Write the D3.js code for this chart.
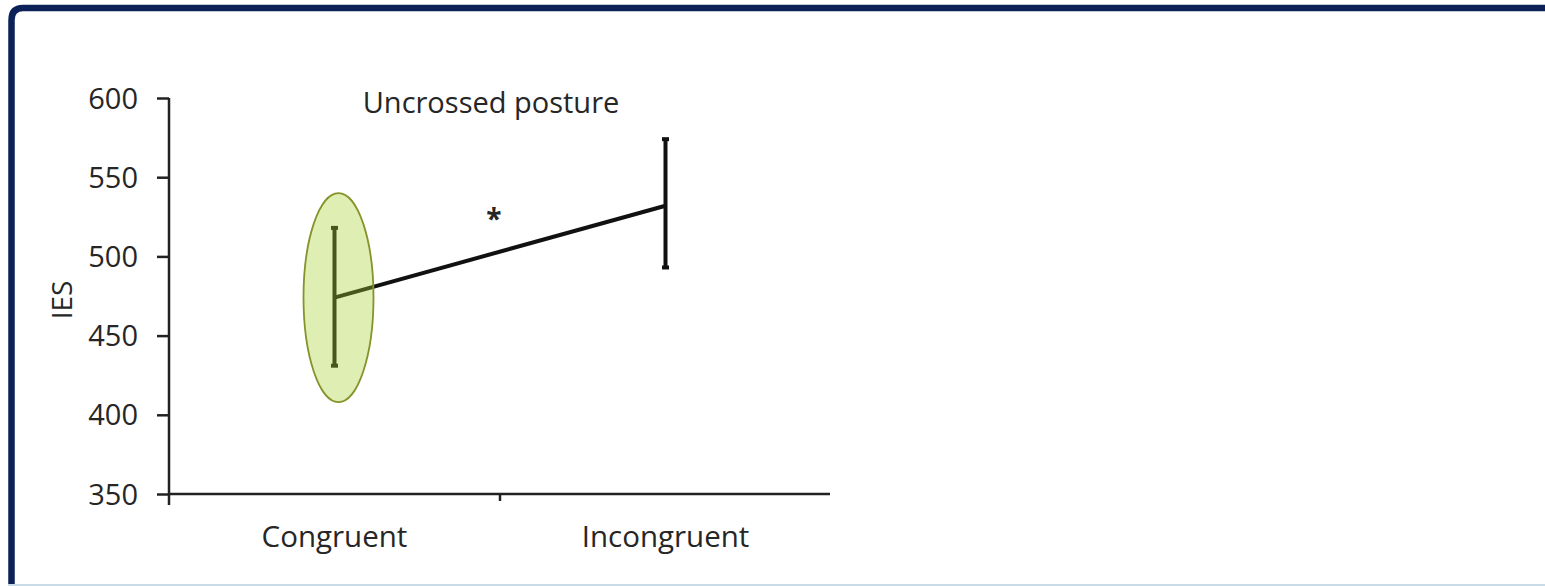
<!DOCTYPE html>
<html>
<head>
<meta charset="utf-8">
<script src="https://cdn.jsdelivr.net/npm/d3@7/dist/d3.min.js"></script>
<style>
  html, body { margin: 0; padding: 0; background: #ffffff; }
  svg { display: block; }
  text { font-family: "Open Sans", "Liberation Sans", sans-serif; fill: #262626; }
</style>
</head>
<body>
<svg id="chart" width="1545" height="586"></svg>
<script>
// ---- data ----
const categories = ["Congruent", "Incongruent"];
const means = [474, 532];
const errLow = [431, 493];
const errHigh = [518, 574];
const yTicks = [350, 400, 450, 500, 550, 600];
const title = "Uncrossed posture";
const yLabel = "IES";
const sigMark = "*";
// highlighted region around Congruent (value range)
const highlightRange = [408, 540];

const svg = d3.select("#chart");

// frame
svg.append("path")
  .attr("d", "M11.5,600 L11.5,20 Q11.5,8 23,8 L1560,8")
  .attr("fill", "none").attr("stroke", "#0b2158").attr("stroke-width", 6.5);
svg.append("line").attr("x1", 8).attr("x2", 1545).attr("y1", 585).attr("y2", 585)
  .attr("stroke", "#c9dbe6").attr("stroke-width", 2);

const x = d3.scaleBand().domain(categories).range([169, 831]).padding(0);
const y = d3.scaleLinear().domain([350, 600]).range([494, 98]);
const cx = c => x(c) + x.bandwidth() / 2;

// y axis
const yAxis = svg.append("g").attr("transform", "translate(169,0)")
  .call(d3.axisLeft(y).tickValues(yTicks).tickSize(12).tickPadding(19).tickFormat(d3.format("d")));
yAxis.select(".domain").attr("stroke", "#222").attr("stroke-width", 2.5).attr("d", `M0,${y(600)}V${y(350)}`);
yAxis.selectAll(".tick line").attr("stroke", "#222").attr("stroke-width", 2.5);
yAxis.selectAll(".tick text").style("font-size", "29px").attr("fill", "#262626").attr("dy", "0.35em");

// x axis
const xg = svg.append("g");
xg.append("line").attr("x1", 169).attr("x2", 830).attr("y1", y(350)).attr("y2", y(350))
  .attr("stroke", "#222").attr("stroke-width", 2.5);
xg.selectAll("line.xt").data(categories).enter().append("line")
  .attr("class", "xt")
  .attr("x1", d => x(d)).attr("x2", d => x(d))
  .attr("y1", y(350)).attr("y2", (d, i) => y(350) + (i === 0 ? 11 : 7))
  .attr("stroke", "#222").attr("stroke-width", 2.5);
xg.selectAll("text.xl").data(categories).enter().append("text")
  .attr("class", "xl")
  .attr("x", d => cx(d)).attr("y", 547)
  .attr("text-anchor", "middle").style("font-size", "29.5px").text(d => d);

// y label
svg.append("text").attr("transform", "translate(72,300) rotate(-90)")
  .attr("text-anchor", "middle").style("font-size", "28px").text(yLabel);

// title
svg.append("text").attr("x", 491).attr("y", 113).attr("text-anchor", "middle")
  .style("font-size", "29px").text(title);

// error bars
const capW = 7;
categories.forEach((c, i) => {
  const g = svg.append("g").attr("stroke", "#111").attr("stroke-width", 4).attr("stroke-linecap", "butt");
  g.append("line").attr("x1", cx(c)).attr("x2", cx(c)).attr("y1", y(errLow[i])).attr("y2", y(errHigh[i]));
  g.append("line").attr("x1", cx(c) - capW / 2).attr("x2", cx(c) + capW / 2).attr("y1", y(errLow[i])).attr("y2", y(errLow[i]));
  g.append("line").attr("x1", cx(c) - capW / 2).attr("x2", cx(c) + capW / 2).attr("y1", y(errHigh[i])).attr("y2", y(errHigh[i]));
});

// mean line
const line = d3.line().x((d, i) => cx(categories[i])).y(d => y(d));
svg.append("path").datum(means).attr("d", line)
  .attr("fill", "none").attr("stroke", "#111").attr("stroke-width", 4);

// significance star
svg.append("text").attr("x", (cx(categories[0]) + cx(categories[1])) / 2 - 6).attr("y", 229)
  .attr("text-anchor", "middle").style("font-size", "28px").style("font-weight", "bold").attr("fill", "#333").text(sigMark);

// highlight ellipse
const eTop = y(highlightRange[1]), eBot = y(highlightRange[0]);
svg.append("ellipse")
  .attr("cx", cx(categories[0]) + 4).attr("cy", (eTop + eBot) / 2)
  .attr("rx", 35).attr("ry", (eBot - eTop) / 2)
  .attr("fill", "rgb(168,208,45)").attr("fill-opacity", 0.37)
  .attr("stroke", "#85932a").attr("stroke-width", 1.8);
</script>
</body>
</html>
